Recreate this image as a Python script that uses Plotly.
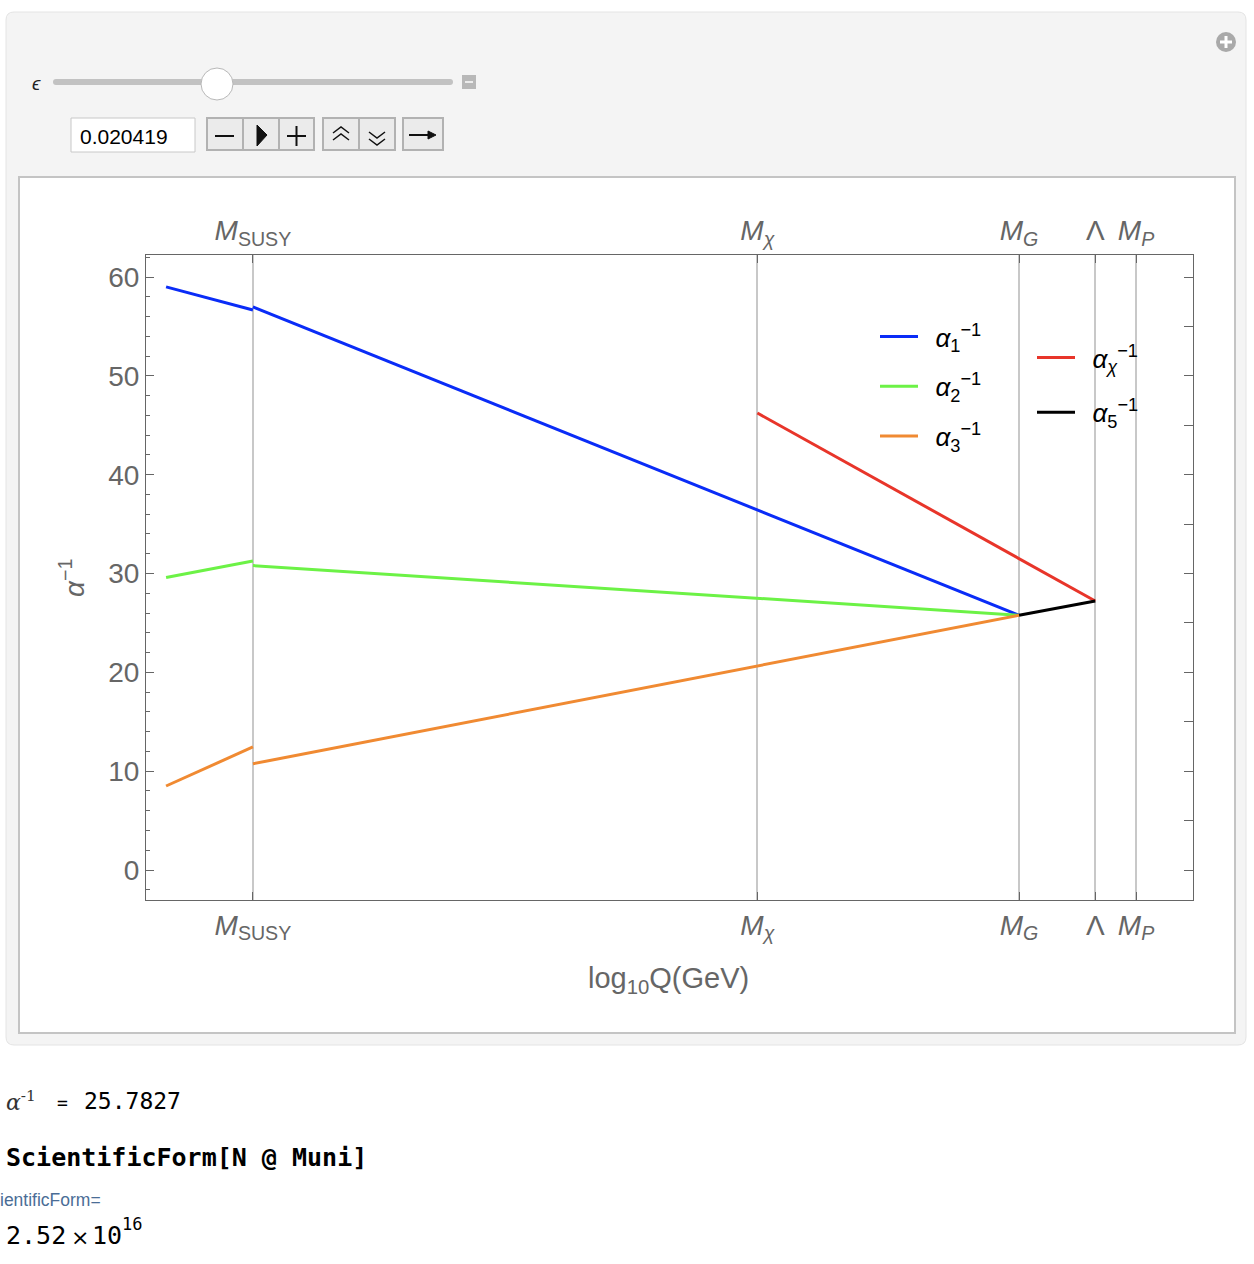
import plotly.graph_objects as go

# ---------------- data (log10 Q in GeV, inverse couplings) ----------------
log_MZ = 1.96
log_MSUSY = 3.43
log_MX = 11.97
log_MG = 16.40
log_Lambda = 17.69
log_MP = 18.38

tick_vals = [log_MSUSY, log_MX, log_MG, log_Lambda, log_MP]
tick_text = ["<i>M</i><sub>SUSY</sub>", "<i>M</i><sub><i>χ</i></sub>",
             "<i>M</i><sub><i>G</i></sub>", "Λ", "<i>M</i><sub><i>P</i></sub>"]

# below M_SUSY (SM running) and above M_SUSY (MSSM running)
x_low = [log_MZ, log_MSUSY]
x_high = [log_MSUSY, log_MG]
a1_low = [59.0, 56.66]
a1_high = [56.97, 25.78]
a2_low = [29.6, 31.27]
a2_high = [30.8, 25.78]
a3_low = [8.5, 12.45]
a3_high = [10.75, 25.78]
x_chi = [log_MX, log_Lambda]
aX = [46.24, 27.22]
x_5 = [log_MG, log_Lambda]
a5 = [25.78, 27.22]

y_ticks = [0, 10, 20, 30, 40, 50, 60]
x_range = [1.62, 19.345]
y_range = [-3.035, 62.23]

C1 = "#0a2cf7"
C2 = "#6cf246"
C3 = "#f08a32"
CX = "#e8352a"
C5 = "#000000"

W, H = 1254, 1264
def X(p): return p / W
def Y(p): return 1 - p / H

GRAY = "#666666"
FONT = "Liberation Sans"

fig = go.Figure()
LW = 3

def seg(x, y, color, name=None, show=False, legend="legend", group=None, xa="x", ya="y"):
    fig.add_trace(go.Scatter(x=x, y=y, mode="lines", line=dict(color=color, width=LW),
                             name=name, showlegend=show, legend=legend,
                             legendgroup=group, hoverinfo="skip", xaxis=xa, yaxis=ya))

SP = "&nbsp;&#8201;"
seg(x_low, a1_low, C1, group="g1")
seg(x_high, a1_high, C1, SP + "<i>α</i><sub>1</sub><sup>−1</sup>", True, "legend", "g1")
seg(x_low, a2_low, C2, group="g2")
seg(x_high, a2_high, C2, SP + "<i>α</i><sub>2</sub><sup>−1</sup>", True, "legend", "g2")
seg(x_low, a3_low, C3, group="g3")
seg(x_high, a3_high, C3, SP + "<i>α</i><sub>3</sub><sup>−1</sup>", True, "legend", "g3")
seg(x_chi, aX, CX, SP + "<i>α</i><sub><i>χ</i></sub><sup>−1</sup>", True, "legend2", "gx", "x2", "y2")
seg(x_5, a5, C5, SP + "<i>α</i><sub>5</sub><sup>−1</sup>", True, "legend2", "g5", "x2", "y2")

tickfont = dict(family=FONT, size=28, color=GRAY)
dom_x = [X(146), X(1193)]
dom_y = [Y(900), Y(255)]
LEGFONT = dict(family=FONT, size=26, color="black")

fig.update_layout(
    width=W, height=H, margin=dict(l=0, r=0, t=0, b=0),
    paper_bgcolor="white", plot_bgcolor="white",
    showlegend=True,
    xaxis=dict(domain=dom_x, range=x_range, tickvals=tick_vals, ticktext=tick_text,
               ticks="inside", ticklen=8, tickcolor=GRAY, tickwidth=1,
               showgrid=True, gridcolor="#c8c8c8", gridwidth=1.5,
               showline=True, linecolor=GRAY, linewidth=1, zeroline=False,
               tickfont=tickfont, anchor="y"),
    xaxis2=dict(domain=dom_x, range=x_range, tickvals=tick_vals, ticktext=tick_text,
                ticks="inside", ticklen=8, tickcolor=GRAY, tickwidth=1,
                showgrid=False, showline=True, linecolor=GRAY, linewidth=1,
                zeroline=False, tickfont=tickfont, overlaying="x", side="top", anchor="y2",
                ticklabelstandoff=3),
    yaxis=dict(domain=dom_y, range=y_range, tickvals=y_ticks,
               ticks="inside", ticklen=8, tickcolor=GRAY, tickwidth=1,
               minor=dict(ticks="inside", ticklen=4, dtick=2, tickcolor=GRAY, showgrid=False),
               showgrid=False, showline=True, linecolor=GRAY, linewidth=1, zeroline=False,
               tickfont=tickfont, anchor="x"),
    yaxis2=dict(domain=dom_y, range=y_range, dtick=5, tick0=0,
                ticks="inside", ticklen=9, tickcolor=GRAY, tickwidth=1,
                showticklabels=False, showgrid=False, showline=True, linecolor=GRAY,
                linewidth=1, zeroline=False, overlaying="y", side="right", anchor="x2"),
    legend=dict(x=X(875), y=Y(313), xanchor="left", yanchor="top",
                bgcolor="rgba(0,0,0,0)", font=LEGFONT,
                tracegroupgap=13, itemwidth=38),
    legend2=dict(x=X(1032), y=Y(334), xanchor="left", yanchor="top",
                 bgcolor="rgba(0,0,0,0)", font=LEGFONT,
                 tracegroupgap=18, itemwidth=38),
)

shapes = []
def rrect(x0, y0, x1, y1, r, fill, line, lw=1, layer="below"):
    p = (f"M {X(x0+r)},{Y(y0)} L {X(x1-r)},{Y(y0)} Q {X(x1)},{Y(y0)} {X(x1)},{Y(y0+r)} "
         f"L {X(x1)},{Y(y1-r)} Q {X(x1)},{Y(y1)} {X(x1-r)},{Y(y1)} "
         f"L {X(x0+r)},{Y(y1)} Q {X(x0)},{Y(y1)} {X(x0)},{Y(y1-r)} "
         f"L {X(x0)},{Y(y0+r)} Q {X(x0)},{Y(y0)} {X(x0+r)},{Y(y0)} Z")
    return dict(type="path", path=p, xref="paper", yref="paper", fillcolor=fill,
                line=dict(color=line, width=lw), layer=layer)

# outer manipulate panel and inner white frame
shapes.append(rrect(6, 12, 1246, 1045, 8, "#f4f4f4", "#e4e4e4", 1))
shapes.append(dict(type="rect", xref="paper", yref="paper", x0=X(19), x1=X(1235),
                   y0=Y(1033), y1=Y(177), fillcolor="white",
                   line=dict(color="#c4c4c4", width=2), layer="below"))
# plus icon
shapes.append(dict(type="circle", xref="paper", yref="paper", x0=X(1216), x1=X(1236),
                   y0=Y(52), y1=Y(32), fillcolor="#a9a9a9", line=dict(width=0)))
shapes.append(dict(type="line", xref="paper", yref="paper", x0=X(1220), x1=X(1232),
                   y0=Y(42), y1=Y(42), line=dict(color="white", width=3)))
shapes.append(dict(type="line", xref="paper", yref="paper", x0=X(1226), x1=X(1226),
                   y0=Y(36), y1=Y(48), line=dict(color="white", width=3)))
# slider track
shapes.append(rrect(53, 79, 453, 85, 3, "#c2c2c2", "#c2c2c2", 0, "above"))
# knob
shapes.append(dict(type="circle", xref="paper", yref="paper", x0=X(201), x1=X(233),
                   y0=Y(100), y1=Y(68), fillcolor="white", line=dict(color="#b8b8b8", width=1)))
# small minus square
shapes.append(dict(type="rect", xref="paper", yref="paper", x0=X(462), x1=X(476),
                   y0=Y(89), y1=Y(75), fillcolor="#b8b8b8", line=dict(width=0)))
shapes.append(dict(type="line", xref="paper", yref="paper", x0=X(465), x1=X(473),
                   y0=Y(82), y1=Y(82), line=dict(color="#ececec", width=2)))
# input field
shapes.append(dict(type="rect", xref="paper", yref="paper", x0=X(71), x1=X(195),
                   y0=Y(152), y1=Y(118), fillcolor="white", line=dict(color="#c8c8c8", width=1)))
# buttons
for (a, b) in [(207, 243), (243, 279), (279, 314), (323, 359), (359, 395), (403, 443)]:
    shapes.append(dict(type="rect", xref="paper", yref="paper", x0=X(a), x1=X(b),
                       y0=Y(150), y1=Y(118), fillcolor="#ebebeb",
                       line=dict(color="#b2b2b2", width=2)))
BK = "#111111"
shapes.append(dict(type="line", xref="paper", yref="paper", x0=X(215), x1=X(234),
                   y0=Y(136), y1=Y(136), line=dict(color=BK, width=2)))
shapes.append(dict(type="path", xref="paper", yref="paper",
                   path=f"M {X(257)},{Y(125)} L {X(267)},{Y(135)} L {X(257)},{Y(146)} Z",
                   fillcolor=BK, line=dict(color=BK, width=1)))
shapes.append(dict(type="line", xref="paper", yref="paper", x0=X(287), x1=X(306),
                   y0=Y(136), y1=Y(136), line=dict(color=BK, width=2)))
shapes.append(dict(type="line", xref="paper", yref="paper", x0=X(296.5), x1=X(296.5),
                   y0=Y(126), y1=Y(146), line=dict(color=BK, width=2)))
for yy in [127, 134]:
    shapes.append(dict(type="path", xref="paper", yref="paper",
                       path=f"M {X(333)},{Y(yy+6)} L {X(341)},{Y(yy)} L {X(349)},{Y(yy+6)}",
                       line=dict(color=BK, width=1.5)))
for yy in [132, 139]:
    shapes.append(dict(type="path", xref="paper", yref="paper",
                       path=f"M {X(369)},{Y(yy)} L {X(377)},{Y(yy+6)} L {X(385)},{Y(yy)}",
                       line=dict(color=BK, width=1.5)))
shapes.append(dict(type="line", xref="paper", yref="paper", x0=X(409), x1=X(430),
                   y0=Y(135), y1=Y(135), line=dict(color=BK, width=2)))
shapes.append(dict(type="path", xref="paper", yref="paper",
                   path=f"M {X(428)},{Y(131)} L {X(436)},{Y(135)} L {X(428)},{Y(139)} Z",
                   fillcolor=BK, line=dict(color=BK, width=1)))

fig.update_layout(shapes=shapes)

ann = []
def text(x, y, s, size, color="black", family=FONT, xanchor="left", angle=0):
    ann.append(dict(x=X(x), y=Y(y), xref="paper", yref="paper", text=s, showarrow=False,
                    xanchor=xanchor, yanchor="middle", textangle=angle,
                    font=dict(family=family, size=size, color=color)))

text(30, 83, "<i>ϵ</i>", 19, "#222222", FONT)
text(78, 136, "0.020419", 21, "black")
# axis titles
text(668, 980, "log<sub>10</sub>Q(GeV)", 29, GRAY, FONT, "center")
text(72, 578, "<i>α</i><sup>−1</sup>", 28, GRAY, FONT, "center", -90)
# output cells
text(4, 1101, "<i>α</i><sup>-1</sup>", 22, "#333333", "DejaVu Serif")
text(55, 1102, "=", 18, "black", "DejaVu Sans Mono")
text(82, 1101, "25.7827", 23, "black", "DejaVu Sans Mono")
text(4, 1157, "<b>ScientificForm[N @ Muni]</b>", 25, "black", "DejaVu Sans Mono")
text(-2, 1200, "ientificForm=", 17.5, "#4a6d96", FONT)
text(4, 1235, "2.52", 25, "black", "DejaVu Sans Mono")
text(69, 1237, "×", 22, "black", "DejaVu Sans")
text(90, 1235, "10", 25, "black", "DejaVu Sans Mono")
text(120, 1224, "16", 17, "black", "DejaVu Sans Mono")
fig.update_layout(annotations=ann)

fig.write_html("out.html")
